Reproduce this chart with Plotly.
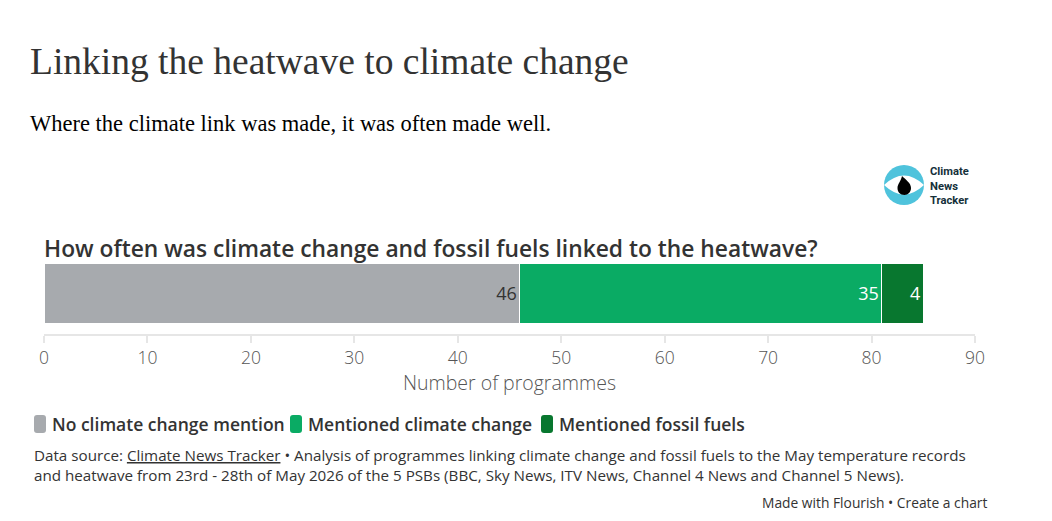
import plotly.graph_objects as go

# data
category = ["Programmes"]
series_names = ["No climate change mention", "Mentioned climate change", "Mentioned fossil fuels"]
series_values = [[46], [35], [4]]
series_colors = ["#a7aaae", "#0aab64", "#08772f"]
label_colors = ["#333333", "#ffffff", "#ffffff"]
x_ticks = [0, 10, 20, 30, 40, 50, 60, 70, 80, 90]

# page body has an 8px margin, so the figure is drawn from (8, 8)
OX, OY = 8, 8
W, H = 1036, 505
ML, MR = 36, 69
PW = W - ML - MR


def px_x(x):
    return (x - OX - ML) / PW


def px_y(y):
    return 1 - (y - OY) / H


fig = go.Figure()
for name, vals, col, lcol in zip(series_names, series_values, series_colors, label_colors):
    fig.add_trace(
        go.Bar(
            x=vals,
            y=category,
            orientation="h",
            name=name,
            width=1,
            marker=dict(color=col, line=dict(color="white", width=1)),
            text=[str(v) for v in vals],
            textposition="inside",
            insidetextanchor="end",
            textangle=0,
            textfont=dict(family="Open Sans", size=18, color=lcol),
            showlegend=False,
            hoverinfo="x+name",
        )
    )

annotations = [
    dict(text="Linking the heatwave to climate change", x=px_x(28), y=px_y(62),
         font=dict(family="Liberation Serif", size=37.5, color="#333333")),
    dict(text="Where the climate link was made, it was often made well.", x=px_x(28), y=px_y(124),
         font=dict(family="Liberation Serif", size=22.5, color="#000000")),
    dict(text="How often was climate change and fossil fuels linked to the heatwave?",
         x=px_x(42), y=px_y(248),
         font=dict(family="Open Sans", size=22.8, color="#333333", weight=600)),
    dict(text="Data source: <u>Climate News Tracker</u> • Analysis of programmes linking climate change "
              "and fossil fuels to the May temperature records<br>and heatwave from 23rd - 28th of May 2026 "
              "of the 5 PSBs (BBC, Sky News, ITV News, Channel 4 News and Channel 5 News).",
         x=px_x(32), y=px_y(465), align="left",
         font=dict(family="Open Sans", size=15.2, color="#333333")),
    dict(text="Made with Flourish • Create a chart", x=px_x(989), y=px_y(502), xanchor="right",
         font=dict(family="Open Sans", size=13.8, color="#333333")),
    dict(text="Climate<br>News<br>Tracker", x=px_x(928), y=px_y(186), align="left",
         font=dict(family="Roboto", size=11.2, color="#15303a", weight=700)),
]

# custom legend
legend_x = [(34, 52), (290, 308), (541, 559)]
shapes = []
for (sx, tx), name, col in zip(legend_x, series_names, series_colors):
    x0, x1, y0, y1, r = sx, sx + 12, 415, 433, 3
    path = (
        f"M {px_x(x0 + r)},{px_y(y0)} L {px_x(x1 - r)},{px_y(y0)} "
        f"Q {px_x(x1)},{px_y(y0)} {px_x(x1)},{px_y(y0 + r)} L {px_x(x1)},{px_y(y1 - r)} "
        f"Q {px_x(x1)},{px_y(y1)} {px_x(x1 - r)},{px_y(y1)} L {px_x(x0 + r)},{px_y(y1)} "
        f"Q {px_x(x0)},{px_y(y1)} {px_x(x0)},{px_y(y1 - r)} L {px_x(x0)},{px_y(y0 + r)} "
        f"Q {px_x(x0)},{px_y(y0)} {px_x(x0 + r)},{px_y(y0)} Z"
    )
    shapes.append(dict(type="path", path=path, xref="paper", yref="paper",
                       fillcolor=col, line=dict(width=0)))
    annotations.append(
        dict(text=name, x=px_x(tx - 2), y=px_y(424),
             font=dict(family="Open Sans", size=17.5, color="#333333", weight=600))
    )

# logo
shapes.append(dict(type="circle", xref="paper", yref="paper",
                   x0=px_x(884), x1=px_x(924), y0=px_y(205), y1=px_y(165),
                   fillcolor="#4fc3dc", line=dict(width=0)))
lens = (f"M {px_x(884)},{px_y(185)} Q {px_x(904)},{px_y(166)} {px_x(924)},{px_y(185)} "
        f"Q {px_x(904)},{px_y(204)} {px_x(884)},{px_y(185)} Z")
shapes.append(dict(type="path", path=lens, xref="paper", yref="paper",
                   fillcolor="white", line=dict(width=0)))
drop_pts = [(902, 176), (906, 180), (911, 183), (911, 188), (911, 192), (908, 195), (904.5, 195),
            (900, 195), (897.5, 192), (897.5, 188), (897.5, 184), (901, 181), (902, 176)]
drop = f"M {px_x(drop_pts[0][0])},{px_y(drop_pts[0][1])}"
for k in range(1, len(drop_pts), 3):
    a, b, c = drop_pts[k:k + 3]
    drop += (f" C {px_x(a[0])},{px_y(a[1])} {px_x(b[0])},{px_y(b[1])} "
             f"{px_x(c[0])},{px_y(c[1])}")
drop += " Z"
shapes.append(dict(type="path", path=drop, xref="paper", yref="paper",
                   fillcolor="#000000", line=dict(width=0)))

for a in annotations:
    a.setdefault("xref", "paper")
    a.setdefault("yref", "paper")
    a.setdefault("xanchor", "left")
    a.setdefault("yanchor", "middle")
    a.setdefault("showarrow", False)

fig.update_layout(
    width=W,
    height=H,
    barmode="stack",
    margin=dict(l=ML, r=MR, t=0, b=0),
    paper_bgcolor="white",
    plot_bgcolor="white",
    annotations=annotations,
    shapes=shapes,
    xaxis=dict(
        range=[0, 90],
        tickvals=x_ticks,
        anchor="free",
        position=px_y(335),
        showline=True,
        linecolor="#e6e6e6",
        linewidth=2,
        ticks="outside",
        ticklen=7,
        tickwidth=1.5,
        tickcolor="#e6e6e6",
        showgrid=False,
        zeroline=False,
        tickfont=dict(family="Open Sans", size=17.5, color="#555555", weight=300),
        title=dict(text="Number of programmes", standoff=6,
                   font=dict(family="Open Sans", size=19.5, color="#555555", weight=300)),
    ),
    yaxis=dict(
        domain=[px_y(323), px_y(263)],
        range=[-0.5, 0.5],
        visible=False,
    ),
)

fig.write_html("out.html")
